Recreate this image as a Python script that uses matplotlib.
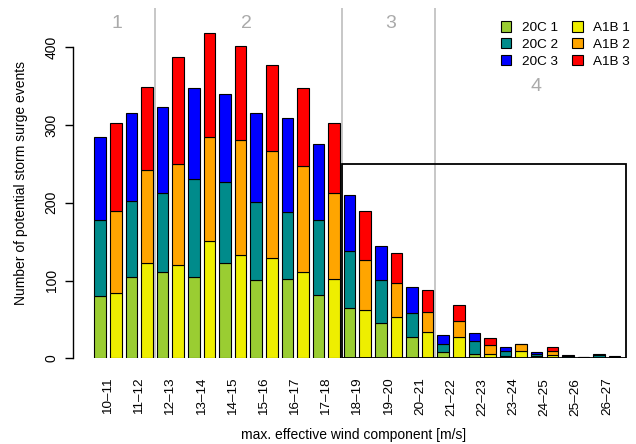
import numpy as np
import matplotlib.pyplot as plt
from matplotlib.patches import Patch, Rectangle

plt.rcParams['font.family'] = ['Liberation Sans', 'DejaVu Sans']

# wind speed classes [m/s]
classes = ["10–11", "11–12", "12–13", "13–14", "14–15", "15–16", "16–17", "17–18",
           "18–19", "19–20", "20–21", "21–22", "22–23", "23–24", "24–25", "25–26", "26–27"]

# counts per run, 20C control and A1B scenario
c20_1 = [80, 104, 111, 104, 122, 101, 102, 81, 65, 46, 27, 8, 5, 3, 3, 1, 1]
c20_2 = [98, 98, 101, 126, 105, 100, 86, 97, 73, 55, 31, 10, 17, 6, 2, 2, 3]
c20_3 = [107, 113, 111, 118, 113, 115, 121, 97, 72, 44, 34, 12, 10, 5, 3, 1, 1]
a1b_1 = [84, 123, 120, 151, 133, 129, 111, 102, 62, 53, 34, 27, 5, 10, 4, 1, 1]
a1b_2 = [105, 119, 130, 134, 148, 138, 136, 110, 65, 44, 26, 21, 12, 8, 5, 1, 1]
a1b_3 = [114, 107, 137, 133, 120, 110, 101, 90, 63, 38, 28, 21, 9, 1, 5, 0, 1]

col_20c = ["yellowgreen", "darkcyan", "blue"]
col_a1b = ["#EEEE00", "orange", "red"]

fig = plt.figure(figsize=(6.36, 4.44), dpi=100)
ax = fig.add_axes([73.3/636, 1 - 358.3/444, 560.7/636, 350/444])

n = len(classes)
x20 = np.arange(n) * 2
xa = x20 + 1
w = 0.74

bottom = np.zeros(n)
for vals, c in zip([c20_1, c20_2, c20_3], col_20c):
    ax.bar(x20, vals, w, bottom=bottom, color=c, edgecolor="black", linewidth=0.8)
    bottom += np.array(vals)
bottom = np.zeros(n)
for vals, c in zip([a1b_1, a1b_2, a1b_3], col_a1b):
    ax.bar(xa, vals, w, bottom=bottom, color=c, edgecolor="black", linewidth=0.8)
    bottom += np.array(vals)

# category borders
for xv in [3.5, 15.5, 21.5]:
    ax.axvline(xv, color="#BEBEBE", linewidth=1.2, zorder=0)
for lab, xv, yv in [("1", 1.1, 430), ("2", 9.35, 430), ("3", 18.6, 430), ("4", 27.95, 349)]:
    ax.text(xv, yv, lab, color="#AAAAAA", fontsize=14, ha="center", va="center")

ax.add_patch(Rectangle((15.5, 0), 33.7 - 15.5, 250, fill=False, edgecolor="black",
                       linewidth=1.3, zorder=5))

ax.set_xlim(-1.73, 34.24)
ax.set_ylim(0, 450)
for s in ["top", "right", "bottom"]:
    ax.spines[s].set_visible(False)
ax.spines["left"].set_bounds(0, 400)
ax.spines["left"].set_linewidth(1.0)

ax.set_yticks([0, 100, 200, 300, 400])
ax.tick_params(axis="y", length=6, width=1.0, pad=4.5, labelsize=10, labelrotation=90)
for t in ax.get_yticklabels():
    t.set_va("center")
ax.set_xticks(x20 + 0.5)
ax.set_xticklabels(classes, rotation=90, fontsize=9.7)
ax.tick_params(axis="x", length=0, pad=14)

ax.set_ylabel("Number of potential storm surge events", fontsize=10)
ax.yaxis.set_label_coords(-0.08, 0.5)
ax.set_xlabel("max. effective wind component [m/s]", fontsize=10)
ax.xaxis.set_label_coords(0.5, -0.2)

handles = [Patch(facecolor=c, edgecolor="black", linewidth=0.8) for c in col_20c + col_a1b]
labels = ["20C 1", "20C 2", "20C 3", "A1B 1", "A1B 2", "A1B 3"]
ax.legend(handles, labels, ncol=2, frameon=False, loc="upper right",
          bbox_to_anchor=(1.01, 0.99), fontsize=9.7, handlelength=0.8, handleheight=0.8,
          handletextpad=0.8, columnspacing=1.0, labelspacing=0.3, borderaxespad=0.3)

fig.savefig("out.png", dpi=100)
